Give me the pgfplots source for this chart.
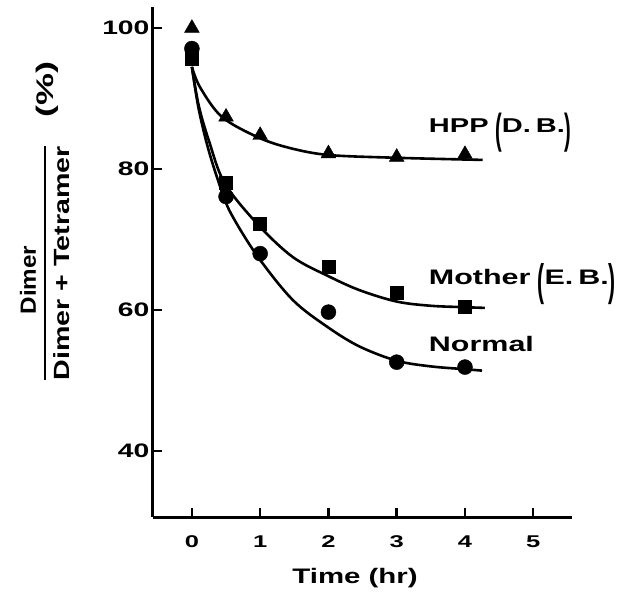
\documentclass[border=0pt]{standalone}
\usepackage{amsmath}
\usepackage{fontspec}
\setmainfont{Liberation Sans}
\usepackage{pgfplots}
\pgfplotsset{compat=1.18}
% wide lettering of the original: stretch text horizontally
\newcommand\W[2][1.45]{\scalebox{#1}[1]{#2}}
% tall thin parentheses
\newcommand\BP[1]{\raisebox{-11pt}{\scalebox{1}[2.1]{#1}}}

\begin{document}
\begin{tikzpicture}
\begin{axis}[
    scale only axis, width=419pt, height=510pt,
    xmin=-0.57, xmax=5.57, ymin=30.6, ymax=103,
    axis lines=left, axis line style={-, line width=3pt},
    xtick={0,1,...,5}, ytick={40,60,80,100},
    tick align=inside, major tick length=9pt,
    tick style={line width=2.5pt, black},
    /pgf/number format/assume math mode=true,
    xticklabel style={font=\bfseries\fontsize{17}{20}\selectfont, yshift=-15pt},
    yticklabel style={font=\bfseries\fontsize{19.5}{22}\selectfont, xshift=0pt},
    xticklabel={\W[1.5]{\pgfmathprintnumber{\tick}}},
    yticklabel={\W[1.45]{\pgfmathprintnumber{\tick}}},
    xlabel={\W[1.4]{Time (hr)}},
    xlabel style={font=\bfseries\fontsize{21}{24}\selectfont,
        at={(axis description cs:0.482,-0.12)}, anchor=center},
    clip=false,
]
% fitted curves
\addplot[smooth, tension=0.55, line width=2.6pt] coordinates {
    (0,94.5) (0.12,91.6) (0.44,87.4) (0.97,84.5) (1.43,83.0)
    (2.0,82.0) (3.0,81.6) (4.26,81.3)};
\addplot[smooth, tension=0.55, line width=2.6pt] coordinates {
    (0,94.5) (0.1,89) (0.25,84) (0.48,78) (0.97,72.1) (1.48,67.5)
    (2.0,64.8) (2.46,62.8) (3.0,61.2) (3.5,60.6) (4.0,60.4) (4.29,60.3)};
\addplot[smooth, tension=0.55, line width=2.6pt] coordinates {
    (0,94.5) (0.1,88.5) (0.25,82.5) (0.45,76.5) (0.6,73.2) (0.97,67.5)
    (1.48,61.4) (2.0,57.5) (2.46,54.8) (3.0,52.8) (3.5,52.0) (4.0,51.6)
    (4.25,51.4)};
% measured points
\addplot[only marks, mark=triangle*, mark size=8.5pt, mark options={fill=black}] coordinates {
    (0,100) (0.5,87.4) (1,84.8) (2,82.2) (3,81.7) (4,82.1)};
\addplot[only marks, mark=square*, mark size=6.5pt, mark options={fill=black}] coordinates {
    (0,95.6) (0.5,78.0) (1,72.3) (2,66.1) (3,62.4) (4,60.5)};
\addplot[only marks, mark=*, mark size=7.5pt, mark options={fill=black}] coordinates {
    (0,97.1) (0.5,76.1) (1,68.0) (2,59.7) (3,52.6) (4,51.9)};

\node[anchor=base west, inner sep=0, font=\bfseries\fontsize{20}{24}\selectfont]
    at (axis cs:3.47,85.25) {\W{HPP}\,\,\BP{(}\W{D.\,B.}\BP{)}};
\node[anchor=base west, inner sep=0, font=\bfseries\fontsize{21}{24}\selectfont]
    at (axis cs:3.47,63.55) {\W{Mother}\,\,\BP{(}\W{E.\,B.}\BP{)}};
\node[anchor=base west, inner sep=0, font=\bfseries\fontsize{21}{24}\selectfont]
    at (axis cs:3.47,54.1) {\W{Normal}};

% y label
\node[rotate=90, anchor=center, inner sep=0, font=\bfseries\fontsize{22}{26}\selectfont]
    at (rel axis cs:-0.258,0.498)
    {$\genfrac{}{}{2.5pt}{0}{\mbox{\W[1.1]{Dimer}\hspace{34pt}}}{\mbox{\W[1.3]{Dimer + Tetramer}}}$};
\node[rotate=90, anchor=center, inner sep=0, font=\bfseries\fontsize{24}{28}\selectfont]
    at (rel axis cs:-0.253,0.839) {\W[1.5]{(\%)}};

\path (rel axis cs:-0.365,-0.143) rectangle (rel axis cs:1.138,1.0137);
\end{axis}
\end{tikzpicture}
\end{document}
